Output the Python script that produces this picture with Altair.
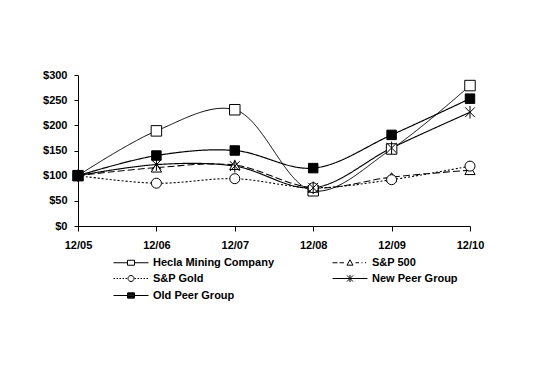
import altair as alt
import pandas as pd

periods = ["12/05", "12/06", "12/07", "12/08", "12/09", "12/10"]
series = ["Hecla Mining Company", "S&P 500", "S&P Gold", "New Peer Group", "Old Peer Group"]
hecla = [100, 189, 231, 70, 153, 279]
sp500 = [100, 116, 121, 76, 97, 111]
sp_gold = [100, 85, 94, 76, 92, 119]
new_peer = [100, 122, 119, 76, 155, 226]
old_peer = [100, 140, 150, 115, 181, 253]

values = [hecla, sp500, sp_gold, new_peer, old_peer]
rows = []
for name, vals in zip(series, values):
    for p, v in zip(periods, vals):
        rows.append({"period": p, "series": name, "value": v})
df = pd.DataFrame(rows)

# marker styles in the plot
marker_paths = [
    "M-1,-1H1V1H-1Z",
    "triangle-up",
    "circle",
    "M-1,-1L1,1M-1,1L1,-1M0,-1.3V1.3",
    "M-1,-1H1V1H-1Z",
]
fills = ["white", "white", "white", "white", "black"]
dashes = [[1, 0], [7, 3], [2, 2], [1, 0], [1, 0]]
widths = [1, 1.2, 1.2, 1.2, 1.5]
sizes = [110, 90, 90, 80, 110]

# legend symbols (line + marker) drawn in px, converted to symbol units
SYM = 14          # symbol size (px) used for legend layout
U = SYM / 2       # px per unit
W = 35            # drawn width of legend line
MC = W / 2        # marker centre


def ux(px):
    return (px - SYM / 2) / U


def uy(py):
    return py / U


def seg(a, b):
    return f"M{ux(a):.3f},0H{ux(b):.3f}"


def segs(pairs):
    return "".join(seg(a, b) for a, b in pairs)


def dotted(a, b, on=1.5, off=1.5):
    out = []
    t = a
    while t < b:
        out.append((t, min(t + on, b)))
        t += on + off
    return out


def sq(half_w, half_h):
    return (f"M{ux(MC - half_w):.3f},{uy(-half_h):.3f}H{ux(MC + half_w):.3f}"
            f"V{uy(half_h):.3f}H{ux(MC - half_w):.3f}V{uy(-half_h):.3f}")


def sq_filled(half_w, half_h):
    out = sq(half_w, half_h)
    y = -half_h
    while y <= half_h + 0.01:
        out += f"M{ux(MC - half_w):.3f},{uy(y):.3f}H{ux(MC + half_w):.3f}"
        y += 0.7
    return out


def tri(r):
    return (f"M{ux(MC):.3f},{uy(-r):.3f}L{ux(MC + r):.3f},{uy(r * 0.8):.3f}"
            f"L{ux(MC - r):.3f},{uy(r * 0.8):.3f}Z")


def circ(r):
    a = r / U
    return (f"M{ux(MC + r):.3f},0A{a:.3f},{a:.3f},0,1,1,{ux(MC - r):.3f},0"
            f"A{a:.3f},{a:.3f},0,1,1,{ux(MC + r):.3f},0")


def star(r):
    return (f"M{ux(MC - r):.3f},{uy(-r):.3f}L{ux(MC + r):.3f},{uy(r):.3f}"
            f"M{ux(MC - r):.3f},{uy(r):.3f}L{ux(MC + r):.3f},{uy(-r):.3f}"
            f"M{ux(MC):.3f},{uy(-r * 1.2):.3f}V{uy(r * 1.2):.3f}")


legend_paths = [
    segs([(0, MC - 3.5), (MC + 3.5, W)]) + sq(3.5, 2.5),
    segs([(0, 5), (7, 11.5), (23, 26.5), (29, 30), (32.5, 33.5)]) + tri(3),
    segs(dotted(0, MC - 3.5) + dotted(MC + 3.5, W)) + circ(3),
    segs([(0, W)]) + star(3),
    segs([(0, MC - 3.5), (MC + 3.5, W)]) + sq_filled(3.5, 2.5),
]

font = "Liberation Sans"

x = alt.X("period:O", scale=alt.Scale(type="point", padding=0), title=None,
          axis=alt.Axis(labelAngle=0, labelFont=font, labelFontWeight="bold", labelFontSize=11,
                        labelColor="black", domainColor="black", tickColor="black",
                        tickSize=5, labelPadding=8, grid=False))
y = alt.Y("value:Q", scale=alt.Scale(domain=[0, 300], nice=False), title=None,
          axis=alt.Axis(values=[0, 50, 100, 150, 200, 250, 300], labelExpr="'$' + datum.value",
                        labelFont=font, labelFontWeight="bold", labelFontSize=11,
                        labelColor="black", domainColor="black", tickColor="black",
                        tickSize=4, labelPadding=7, grid=False))

lines = alt.Chart(df).mark_line(interpolate="catmull-rom", color="black").encode(
    x=x, y=y,
    detail="series:N",
    strokeDash=alt.StrokeDash("series:N", scale=alt.Scale(domain=series, range=dashes), legend=None),
    strokeWidth=alt.StrokeWidth("series:N", scale=alt.Scale(domain=series, range=widths), legend=None),
)

points = alt.Chart(df).mark_point(filled=False, stroke="black", strokeWidth=1, opacity=1).encode(
    x=x, y=y,
    shape=alt.Shape("series:N", scale=alt.Scale(domain=series, range=marker_paths), legend=None),
    fill=alt.Fill("series:N", scale=alt.Scale(domain=series, range=fills), legend=None),
    size=alt.Size("series:N", scale=alt.Scale(domain=series, range=sizes), legend=None),
)

legend_layer = alt.Chart(df).transform_filter("false").mark_point(
    filled=False, stroke="black", strokeWidth=1, opacity=1
).encode(
    x=x, y=y,
    shape=alt.Shape("series:N", scale=alt.Scale(domain=series, range=legend_paths),
                    legend=alt.Legend(
                        title=None, orient="none", legendX=35, legendY=180, columns=2,
                        direction="horizontal",
                        labelFont=font, labelFontWeight="bold", labelFontSize=11, labelColor="black",
                        symbolSize=SYM * SYM, symbolStrokeColor="black",
                        symbolStrokeWidth=1, symbolOpacity=1,
                        columnPadding=55, rowPadding=3, labelOffset=W - SYM + 4)),
)

chart = alt.layer(lines, points, legend_layer).resolve_scale(shape="independent").properties(
    width=392, height=151,
    padding={"left": 70, "top": 67, "right": 62, "bottom": 143},
    autosize=alt.AutoSizeParams(type="none"),
    background="white",
).configure_view(stroke=None)

chart.save("out.html", embed_options={"renderer": "svg", "actions": False})
